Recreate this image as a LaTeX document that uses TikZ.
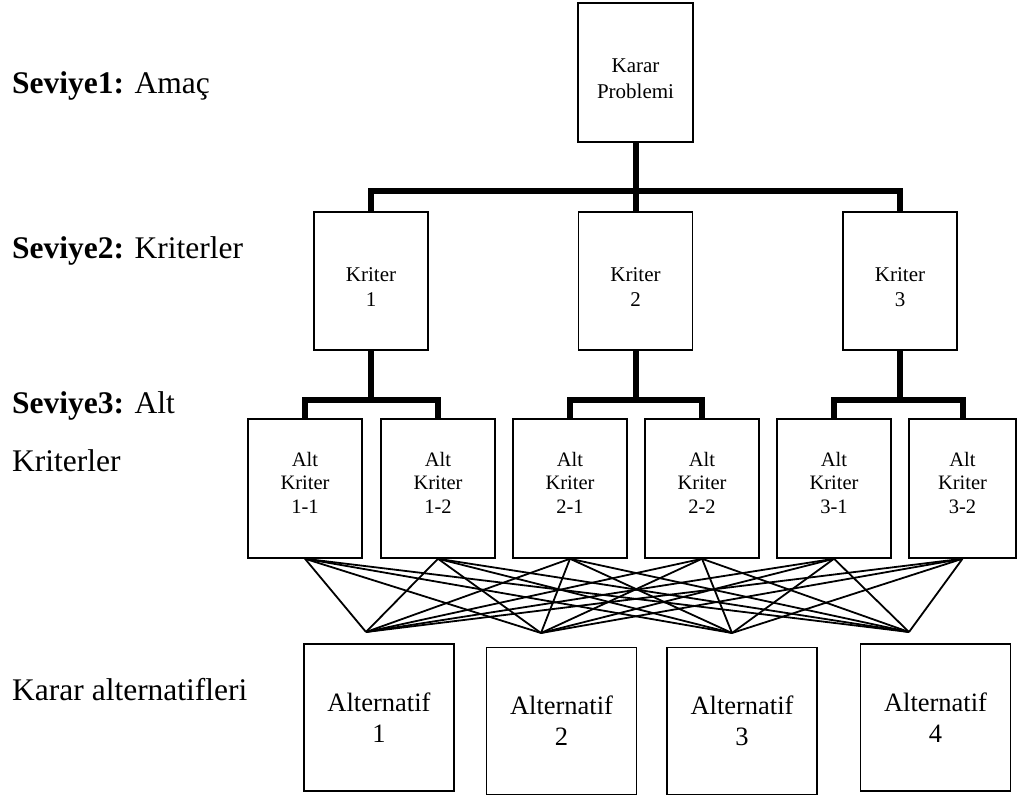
\documentclass[tikz,border=0pt]{standalone}
\usepackage{fontspec}
\setmainfont{Liberation Serif}
% invisible struts that lower or raise a block of text inside its box
\newcommand{\lowerby}[1]{\rule{0pt}{#1}}
\newcommand{\raiseby}[1]{\rule[-#1]{0pt}{#1}}
\begin{document}
\begin{tikzpicture}[x=1pt,y=-1pt,
  box/.style={draw, line width=1.3pt, inner sep=0pt, align=center},
  goalbox/.style={box, minimum width=115pt, minimum height=139pt,
    font=\fontsize{21}{26}\selectfont},
  critbox/.style={box, minimum width=114pt, minimum height=138pt,
    font=\fontsize{21}{25}\selectfont},
  subbox/.style={box, line width=1.5pt, minimum width=114pt, minimum height=139pt,
    font=\fontsize{20.5}{23.5}\selectfont},
  altbox/.style={box, line width=1.8pt, minimum width=150pt, minimum height=147pt,
    font=\fontsize{26.5}{31}\selectfont},
  trunk/.style={line width=6pt, line join=miter},
  cross/.style={line width=1.8pt},
  lbl/.style={anchor=base west, inner sep=0pt, font=\fontsize{31.5}{38}\selectfont}]
\useasboundingbox (0,0) rectangle (1017,796);

% level labels
\node[lbl] (lv1) at (12,93) {\textbf{Seviye1:} Amaç};
\node[lbl] (lv2) at (12,258) {\textbf{Seviye2:} Kriterler};
\node[lbl] (lv3) at (12,413) {\textbf{Seviye3:} Alt};
\node[lbl] (lv3b) at (12,471) {Kriterler};
\node[lbl] (lv4) at (12,700) {Karar alternatifleri};

% goal
\node[goalbox] (goal) at (635.5,72.5) {\lowerby{27pt}Karar\\Problemi};

% criteria
\node[critbox] (k1) at (371,281) {\lowerby{26pt}Kriter\\1};
\node[critbox] (k2) at (635.5,281) {\lowerby{26pt}Kriter\\2};
\node[critbox] (k3) at (900,281) {\lowerby{26pt}Kriter\\3};

% sub-criteria
\node[subbox] (s11) at (305,488.5) {Alt\\Kriter\\1-1\raiseby{12pt}};
\node[subbox] (s12) at (438,488.5) {Alt\\Kriter\\1-2\raiseby{12pt}};
\node[subbox] (s21) at (570,488.5) {Alt\\Kriter\\2-1\raiseby{12pt}};
\node[subbox] (s22) at (702,488.5) {Alt\\Kriter\\2-2\raiseby{12pt}};
\node[subbox] (s31) at (834,488.5) {Alt\\Kriter\\3-1\raiseby{12pt}};
\node[subbox, minimum width=107pt] (s32) at (962.5,488.5) {Alt\\Kriter\\3-2\raiseby{12pt}};

% alternatives
\node[altbox] (a1) at (379,717.5) {Alternatif\\1};
\node[altbox] (a2) at (561.5,721) {Alternatif\\2};
\node[altbox] (a3) at (742,721) {Alternatif\\3};
\node[altbox] (a4) at (935.5,717.5) {Alternatif\\4};

% goal -> criteria
\coordinate (bus) at (635.5,191);
\draw[trunk] (goal.south) -- (bus);
\draw[trunk] (k1.north) |- (bus) -| (k3.north);
\draw[trunk] (k2.north) -- (k2.north |- bus);

% criteria -> sub-criteria
\coordinate (b1) at (371,400);
\coordinate (b2) at (635.5,400);
\coordinate (b3) at (900,400);
\draw[trunk] (k1.south) -- (b1);
\draw[trunk] (s11.north) |- (b1) -| (s12.north);
\draw[trunk] (k2.south) -- (b2);
\draw[trunk] (s21.north) |- (b2) -| (s22.north);
\draw[trunk] (k3.south) -- (b3);
\draw[trunk] (s31.north) |- (b3) -| (s32.north);

% sub-criteria -> alternatives (full mesh)
\coordinate (p1) at (366,632);
\coordinate (p2) at (541,633);
\coordinate (p3) at (732,633);
\coordinate (p4) at (909,632);
\foreach \s in {s11,s12,s21,s22,s31,s32}
  \foreach \p in {p1,p2,p3,p4}
    \draw[cross] (\s.south) -- (\p);
\end{tikzpicture}
\end{document}
